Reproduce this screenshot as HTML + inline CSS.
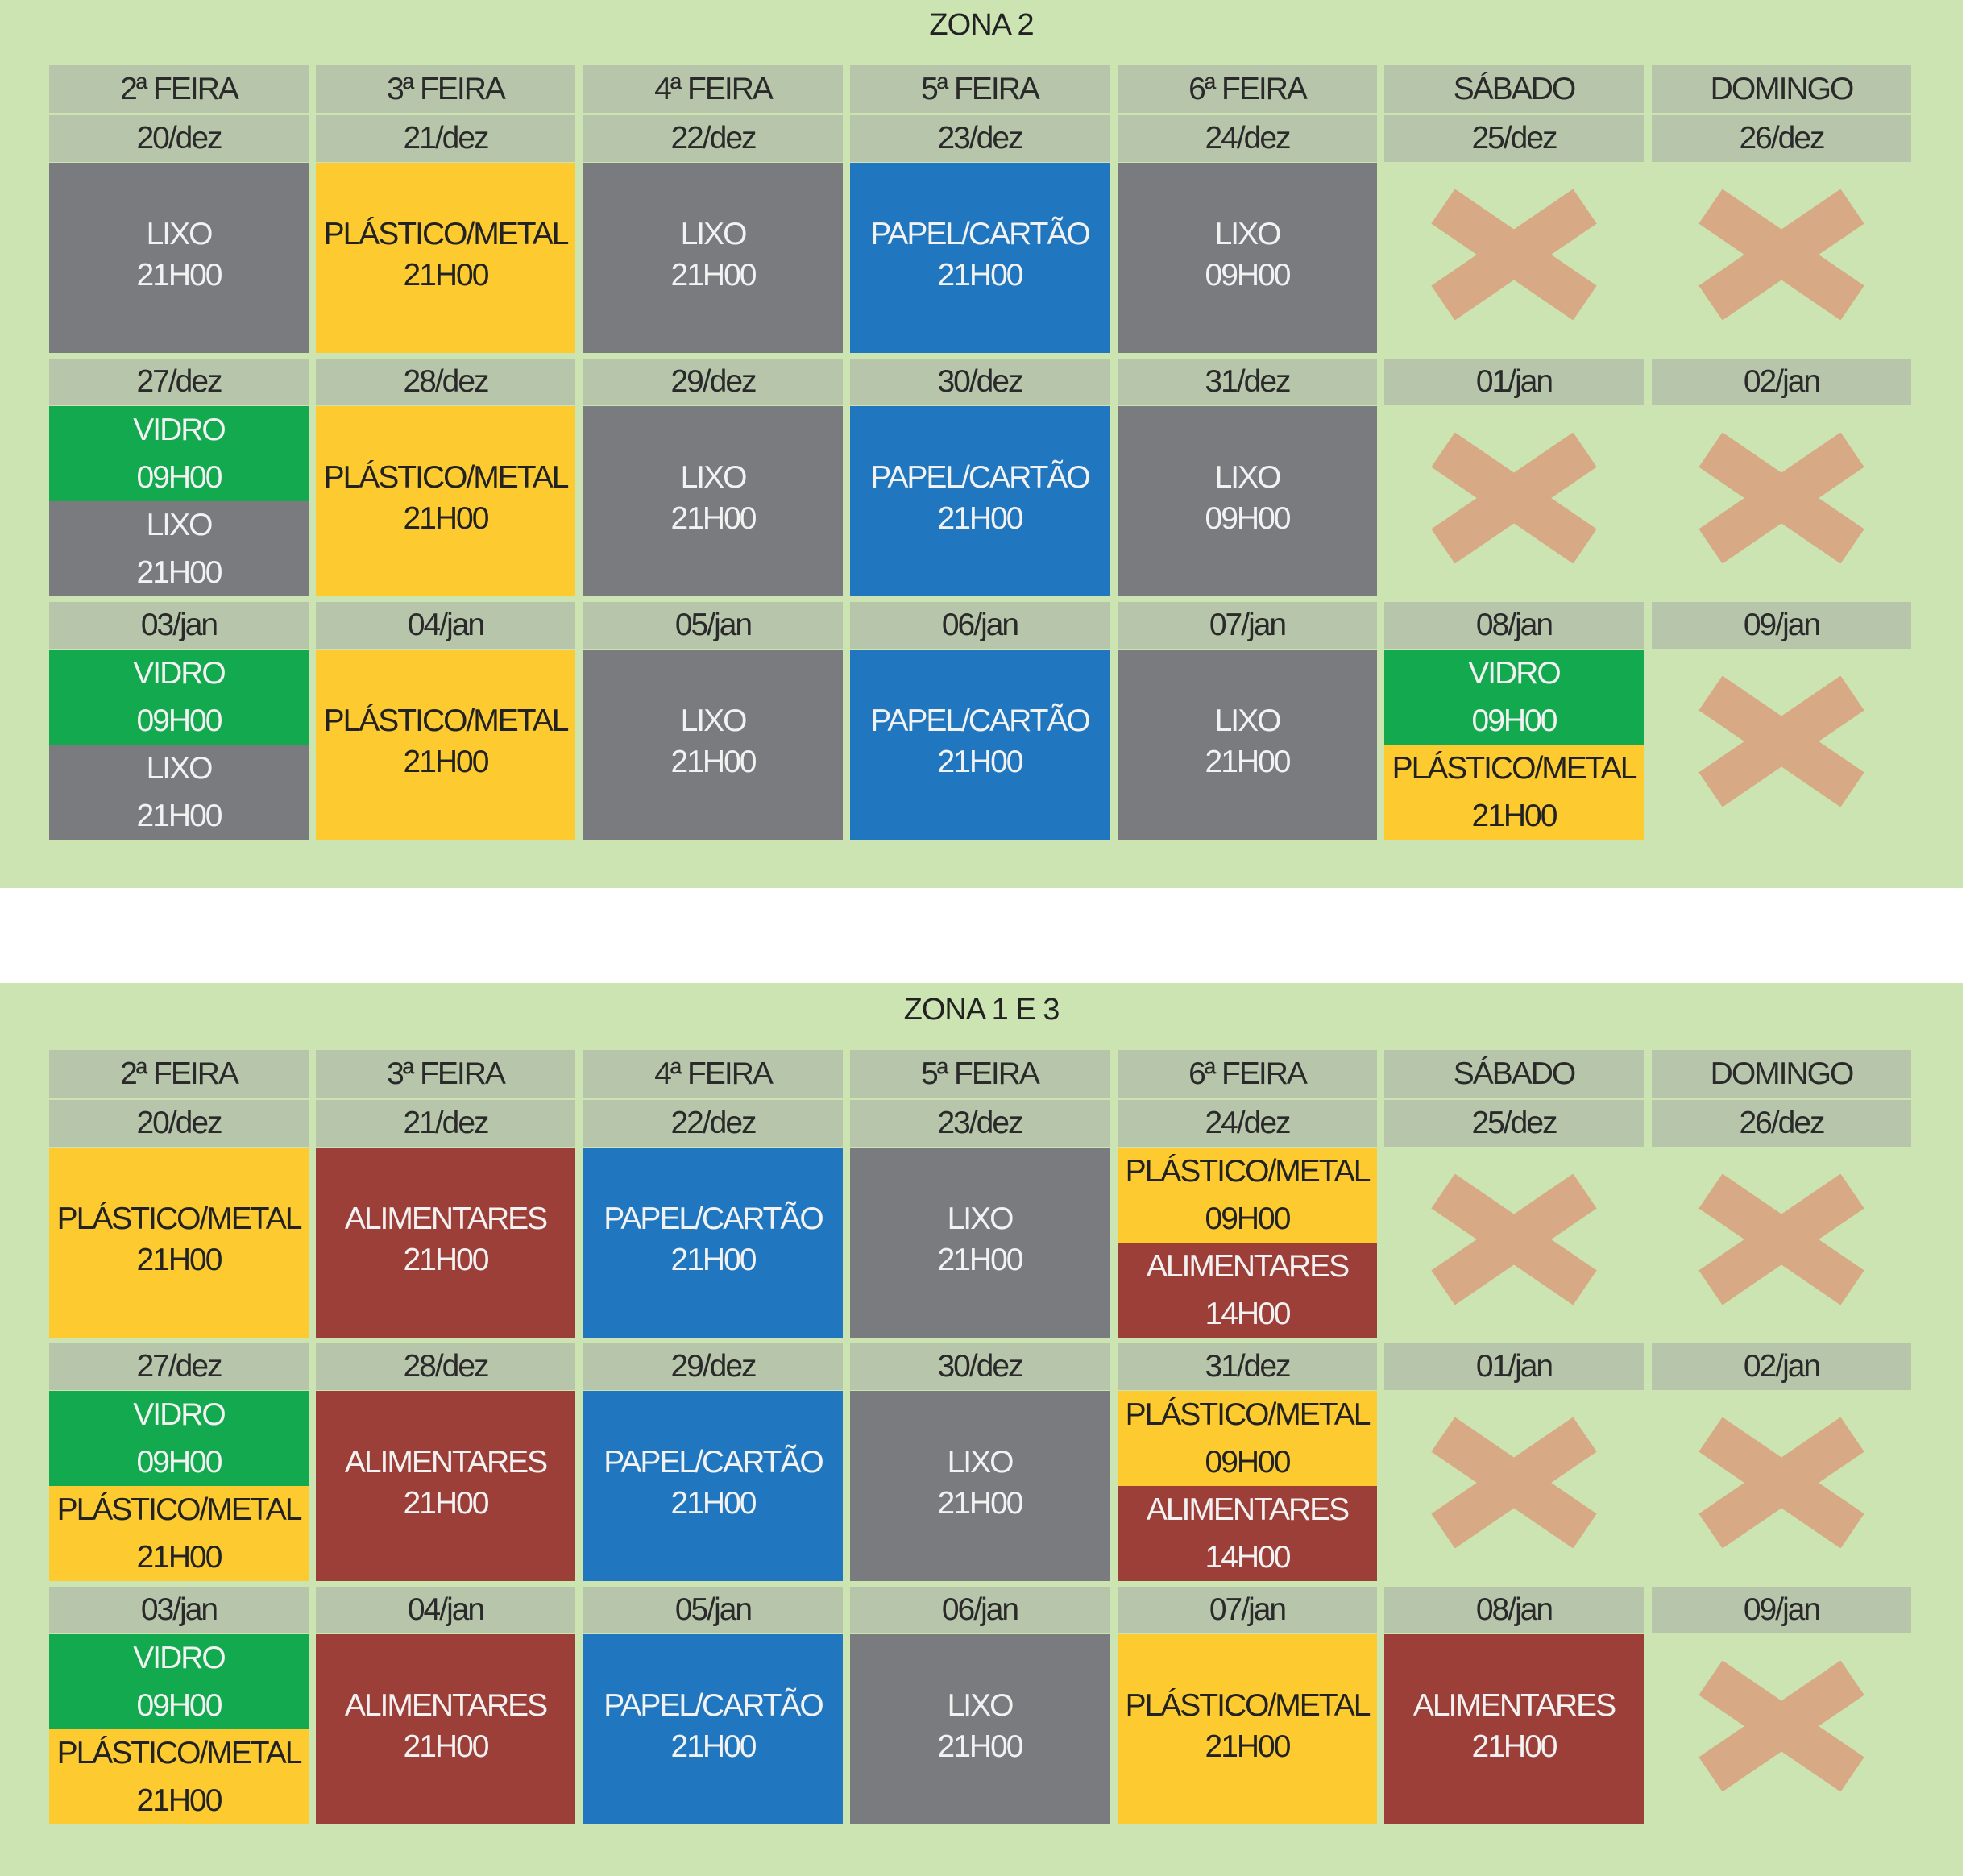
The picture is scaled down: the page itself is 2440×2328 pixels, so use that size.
<!DOCTYPE html>
<html><head><meta charset="utf-8"><style>
body{margin:0;width:2440px;height:2328px;background:#fff;position:relative;overflow:hidden;font-family:"Liberation Sans",sans-serif}
.p{position:absolute;left:0;width:2436px;background:#cce3b2}
.t{position:absolute;left:0;width:2436px;text-align:center;font-size:38px;color:#222;letter-spacing:-1px}
.c{position:absolute;width:322px;display:flex;flex-direction:column;justify-content:center;align-items:center;text-align:center;font-size:39px;letter-spacing:-2px;white-space:nowrap;overflow:hidden}
.h{background:#b7c5ab;color:#2a2a2a;height:59px}
.d{background:#b7c5ab;color:#2a2a2a;height:58px}
.s{height:236px;line-height:51px;padding-bottom:8px;box-sizing:border-box}
.a{height:118px;line-height:59px}
.g{background:#7a7b7f;color:#f2f2f2}
.y{background:#fdcb30;color:#222}
.b{background:#2077bf;color:#f2f2f2}
.v{background:#13a94f;color:#f2f2f2}
.r{background:#9d3f39;color:#f2f2f2}
.x{position:absolute;width:206px;height:162px}
</style></head><body>
<div class="p" style="top:0;height:1102px"></div>
<div class="p" style="top:1220px;height:1108px"></div>
<div class="t" style="top:10px">ZONA 2</div>
<div class="t" style="top:1232px">ZONA 1 E 3</div>

<div class="c h" style="left:61px;top:81px">2ª FEIRA</div>
<div class="c h" style="left:392px;top:81px">3ª FEIRA</div>
<div class="c h" style="left:724px;top:81px">4ª FEIRA</div>
<div class="c h" style="left:1055px;top:81px">5ª FEIRA</div>
<div class="c h" style="left:1387px;top:81px">6ª FEIRA</div>
<div class="c h" style="left:1718px;top:81px">SÁBADO</div>
<div class="c h" style="left:2050px;top:81px">DOMINGO</div>
<div class="c d" style="left:61px;top:143px">20/dez</div>
<div class="c d" style="left:392px;top:143px">21/dez</div>
<div class="c d" style="left:724px;top:143px">22/dez</div>
<div class="c d" style="left:1055px;top:143px">23/dez</div>
<div class="c d" style="left:1387px;top:143px">24/dez</div>
<div class="c d" style="left:1718px;top:143px">25/dez</div>
<div class="c d" style="left:2050px;top:143px">26/dez</div>
<div class="c s g" style="left:61px;top:202px">LIXO<br>21H00</div>
<div class="c s y" style="left:392px;top:202px">PLÁSTICO/METAL<br>21H00</div>
<div class="c s g" style="left:724px;top:202px">LIXO<br>21H00</div>
<div class="c s b" style="left:1055px;top:202px">PAPEL/CARTÃO<br>21H00</div>
<div class="c s g" style="left:1387px;top:202px">LIXO<br>09H00</div>
<div class="c d" style="left:61px;top:445px">27/dez</div>
<div class="c d" style="left:392px;top:445px">28/dez</div>
<div class="c d" style="left:724px;top:445px">29/dez</div>
<div class="c d" style="left:1055px;top:445px">30/dez</div>
<div class="c d" style="left:1387px;top:445px">31/dez</div>
<div class="c d" style="left:1718px;top:445px">01/jan</div>
<div class="c d" style="left:2050px;top:445px">02/jan</div>
<div class="c a v" style="left:61px;top:504px">VIDRO<br>09H00</div>
<div class="c a g" style="left:61px;top:622px">LIXO<br>21H00</div>
<div class="c s y" style="left:392px;top:504px">PLÁSTICO/METAL<br>21H00</div>
<div class="c s g" style="left:724px;top:504px">LIXO<br>21H00</div>
<div class="c s b" style="left:1055px;top:504px">PAPEL/CARTÃO<br>21H00</div>
<div class="c s g" style="left:1387px;top:504px">LIXO<br>09H00</div>
<div class="c d" style="left:61px;top:747px">03/jan</div>
<div class="c d" style="left:392px;top:747px">04/jan</div>
<div class="c d" style="left:724px;top:747px">05/jan</div>
<div class="c d" style="left:1055px;top:747px">06/jan</div>
<div class="c d" style="left:1387px;top:747px">07/jan</div>
<div class="c d" style="left:1718px;top:747px">08/jan</div>
<div class="c d" style="left:2050px;top:747px">09/jan</div>
<div class="c a v" style="left:61px;top:806px">VIDRO<br>09H00</div>
<div class="c a g" style="left:61px;top:924px">LIXO<br>21H00</div>
<div class="c s y" style="left:392px;top:806px">PLÁSTICO/METAL<br>21H00</div>
<div class="c s g" style="left:724px;top:806px">LIXO<br>21H00</div>
<div class="c s b" style="left:1055px;top:806px">PAPEL/CARTÃO<br>21H00</div>
<div class="c s g" style="left:1387px;top:806px">LIXO<br>21H00</div>
<div class="c a v" style="left:1718px;top:806px">VIDRO<br>09H00</div>
<div class="c a y" style="left:1718px;top:924px">PLÁSTICO/METAL<br>21H00</div>

<div class="c h" style="left:61px;top:1303px">2ª FEIRA</div>
<div class="c h" style="left:392px;top:1303px">3ª FEIRA</div>
<div class="c h" style="left:724px;top:1303px">4ª FEIRA</div>
<div class="c h" style="left:1055px;top:1303px">5ª FEIRA</div>
<div class="c h" style="left:1387px;top:1303px">6ª FEIRA</div>
<div class="c h" style="left:1718px;top:1303px">SÁBADO</div>
<div class="c h" style="left:2050px;top:1303px">DOMINGO</div>
<div class="c d" style="left:61px;top:1365px">20/dez</div>
<div class="c d" style="left:392px;top:1365px">21/dez</div>
<div class="c d" style="left:724px;top:1365px">22/dez</div>
<div class="c d" style="left:1055px;top:1365px">23/dez</div>
<div class="c d" style="left:1387px;top:1365px">24/dez</div>
<div class="c d" style="left:1718px;top:1365px">25/dez</div>
<div class="c d" style="left:2050px;top:1365px">26/dez</div>
<div class="c s y" style="left:61px;top:1424px">PLÁSTICO/METAL<br>21H00</div>
<div class="c s r" style="left:392px;top:1424px">ALIMENTARES<br>21H00</div>
<div class="c s b" style="left:724px;top:1424px">PAPEL/CARTÃO<br>21H00</div>
<div class="c s g" style="left:1055px;top:1424px">LIXO<br>21H00</div>
<div class="c a y" style="left:1387px;top:1424px">PLÁSTICO/METAL<br>09H00</div>
<div class="c a r" style="left:1387px;top:1542px">ALIMENTARES<br>14H00</div>
<div class="c d" style="left:61px;top:1667px">27/dez</div>
<div class="c d" style="left:392px;top:1667px">28/dez</div>
<div class="c d" style="left:724px;top:1667px">29/dez</div>
<div class="c d" style="left:1055px;top:1667px">30/dez</div>
<div class="c d" style="left:1387px;top:1667px">31/dez</div>
<div class="c d" style="left:1718px;top:1667px">01/jan</div>
<div class="c d" style="left:2050px;top:1667px">02/jan</div>
<div class="c a v" style="left:61px;top:1726px">VIDRO<br>09H00</div>
<div class="c a y" style="left:61px;top:1844px">PLÁSTICO/METAL<br>21H00</div>
<div class="c s r" style="left:392px;top:1726px">ALIMENTARES<br>21H00</div>
<div class="c s b" style="left:724px;top:1726px">PAPEL/CARTÃO<br>21H00</div>
<div class="c s g" style="left:1055px;top:1726px">LIXO<br>21H00</div>
<div class="c a y" style="left:1387px;top:1726px">PLÁSTICO/METAL<br>09H00</div>
<div class="c a r" style="left:1387px;top:1844px">ALIMENTARES<br>14H00</div>
<div class="c d" style="left:61px;top:1969px">03/jan</div>
<div class="c d" style="left:392px;top:1969px">04/jan</div>
<div class="c d" style="left:724px;top:1969px">05/jan</div>
<div class="c d" style="left:1055px;top:1969px">06/jan</div>
<div class="c d" style="left:1387px;top:1969px">07/jan</div>
<div class="c d" style="left:1718px;top:1969px">08/jan</div>
<div class="c d" style="left:2050px;top:1969px">09/jan</div>
<div class="c a v" style="left:61px;top:2028px">VIDRO<br>09H00</div>
<div class="c a y" style="left:61px;top:2146px">PLÁSTICO/METAL<br>21H00</div>
<div class="c s r" style="left:392px;top:2028px">ALIMENTARES<br>21H00</div>
<div class="c s b" style="left:724px;top:2028px">PAPEL/CARTÃO<br>21H00</div>
<div class="c s g" style="left:1055px;top:2028px">LIXO<br>21H00</div>
<div class="c s y" style="left:1387px;top:2028px">PLÁSTICO/METAL<br>21H00</div>
<div class="c s r" style="left:1718px;top:2028px">ALIMENTARES<br>21H00</div>

<svg width="0" height="0" style="position:absolute"><defs><g id="xx"><line x1="15" y1="21" x2="191" y2="141" stroke="#d7a985" stroke-width="52"/><line x1="191" y1="21" x2="15" y2="141" stroke="#d7a985" stroke-width="52"/></g></defs></svg>
<svg class="x" style="left:1776px;top:235px" viewBox="0 0 206 162"><use href="#xx"/></svg>
<svg class="x" style="left:2108px;top:235px" viewBox="0 0 206 162"><use href="#xx"/></svg>
<svg class="x" style="left:1776px;top:537px" viewBox="0 0 206 162"><use href="#xx"/></svg>
<svg class="x" style="left:2108px;top:537px" viewBox="0 0 206 162"><use href="#xx"/></svg>
<svg class="x" style="left:2108px;top:839px" viewBox="0 0 206 162"><use href="#xx"/></svg>
<svg class="x" style="left:1776px;top:1457px" viewBox="0 0 206 162"><use href="#xx"/></svg>
<svg class="x" style="left:2108px;top:1457px" viewBox="0 0 206 162"><use href="#xx"/></svg>
<svg class="x" style="left:1776px;top:1759px" viewBox="0 0 206 162"><use href="#xx"/></svg>
<svg class="x" style="left:2108px;top:1759px" viewBox="0 0 206 162"><use href="#xx"/></svg>
<svg class="x" style="left:2108px;top:2061px" viewBox="0 0 206 162"><use href="#xx"/></svg>
</body></html>
